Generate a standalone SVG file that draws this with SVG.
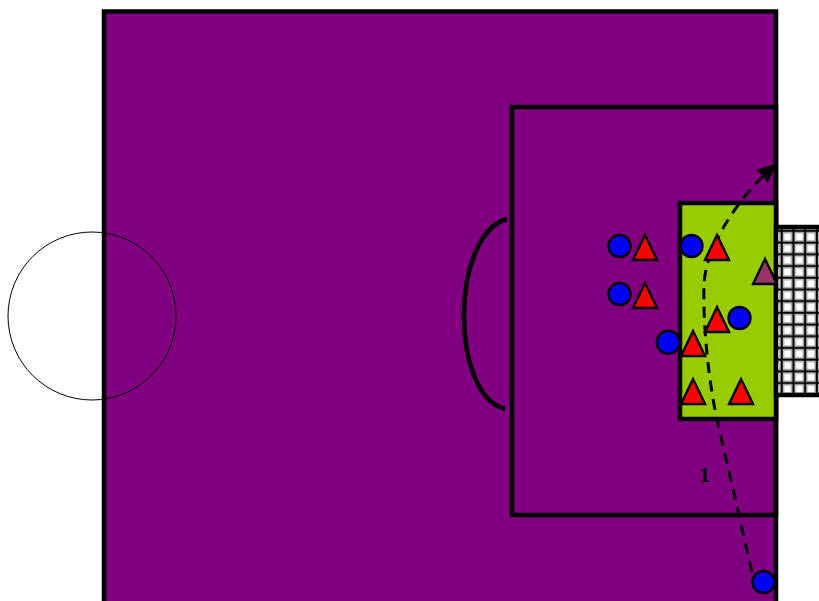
<svg xmlns="http://www.w3.org/2000/svg" width="819" height="601" viewBox="0 0 819 601">
<defs>
<pattern id="net" x="776" y="225.300" width="11.700" height="11.700" patternUnits="userSpaceOnUse"><rect width="11.700" height="11.700" fill="#fff"/><path d="M5.700 0V11.700M0 5.700H11.700" stroke="#000" stroke-width="5" stroke-opacity=".3" fill="none"/><path d="M5.700 0V11.700M0 5.700H11.700" stroke="#000" stroke-width="2" fill="none"/></pattern>
<marker id="ah" markerUnits="userSpaceOnUse" markerWidth="22" markerHeight="22" refX="19" refY="10" orient="auto"><path d="M2 2L20 10L2 18L3.500 10Z" fill="#000" stroke="#000" stroke-width="1"/></marker>
</defs>
<style>
.ln{fill:none;stroke:#000;stroke-width:4.500}
.p{fill:#00f;stroke:#000;stroke-width:2.400}
.t{fill:#f00;stroke:#000;stroke-width:2.400}
.g{fill:#993366;stroke:#000;stroke-width:2.400}
</style>
<g id="field">
<rect x="104" y="11.500" width="672" height="600" fill="#800080" stroke="#000" stroke-width="4.500"/>
<circle cx="92" cy="316" r="84" fill="none" stroke="#000" stroke-width="1"/>
</g>
<g id="penalty-area">
<rect class="ln" x="512" y="107" width="264" height="408"/>
<path class="ln" d="M507 219C450 235 450 395 505 409"/>
</g>
<g id="goal-area"><rect x="680" y="203" width="96" height="216" fill="#99cc00" stroke="#000" stroke-width="4.500"/></g>
<g id="goal"><rect x="776" y="227" width="50" height="168" fill="url(#net)" stroke="#000" stroke-width="4.500"/></g>
<g id="connectors">
<path d="M752 572L716 415C707 370 703 320 704 285C705 250 735 200 775 165" fill="none" stroke="#000" stroke-width="3" stroke-dasharray="11 7.500" marker-end="url(#ah)"/>
</g>
<g id="p1"><circle class="p" cx="619.500" cy="246" r="11"/></g>
<g id="p2"><circle class="p" cx="619.500" cy="294" r="11"/></g>
<g id="p3"><circle class="p" cx="691.500" cy="246" r="11"/></g>
<g id="p4"><circle class="p" cx="739.500" cy="318" r="11"/></g>
<g id="p5"><circle class="p" cx="668.300" cy="342.300" r="11.500"/></g>
<g id="p6"><circle class="p" cx="763.500" cy="582" r="11"/></g>
<g id="t1"><path class="t" d="M645 235L633 260H657Z"/></g>
<g id="t2"><path class="t" d="M645 283L633 308H657Z"/></g>
<g id="t3"><path class="t" d="M717 235L705 260H729Z"/></g>
<g id="t4"><path class="t" d="M717 307L705 332H729Z"/></g>
<g id="t5"><path class="t" d="M693 331L681 356H705Z"/></g>
<g id="t6"><path class="t" d="M693 379L681 404H705Z"/></g>
<g id="t7"><path class="t" d="M741 379L729 404H753Z"/></g>
<g id="keeper"><path class="g" d="M765 259L753 284H777Z"/></g>
<text x="704.500" y="481.500" font-family="'Liberation Serif',serif" font-size="21" font-weight="bold" fill="#000" text-anchor="middle">1</text>
</svg>
